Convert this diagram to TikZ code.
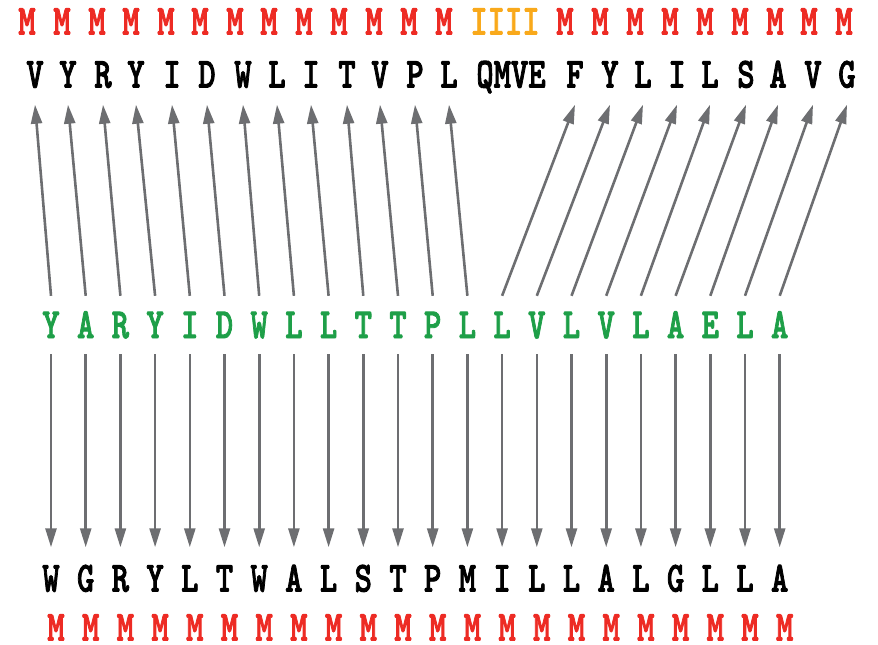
\documentclass[tikz,border=0pt]{standalone}
\usepackage{fontspec}
\usepackage{graphicx}
\usetikzlibrary{arrows.meta}
\newfontfamily\seqfont{lmmonolt10-bold.otf}[FakeBold=2.2]
\definecolor{mred}{RGB}{237,43,36}
\definecolor{morange}{RGB}{249,169,27}
\definecolor{mgreen}{RGB}{30,159,72}
\definecolor{mgray}{RGB}{109,110,113}
\newcommand\sqtxt[1]{\scalebox{1}[1.3]{\seqfont\fontsize{33}{35}\selectfont #1}}
\begin{document}
\begin{tikzpicture}[x=1pt,y=-1pt,
  lett/.style={inner sep=0pt, text height=26pt, text depth=0pt, anchor=center},
  topl/.style={lett, minimum height=60pt},
  midl/.style={lett, minimum height=58pt, text=mgreen},
  botl/.style={lett, minimum height=62pt},
  mrk/.style={lett, text=mred},
  arr/.style={draw=mgray, line width=2.6pt, -{Triangle[length=19pt,width=11pt]}}]
\useasboundingbox (0,0) rectangle (878,645);
% top marker row
\foreach \x [count=\i] in {27,62,97,131,166,200,235,269,304,339,374,409,444}
  \node[mrk] (tm\i) at (\x,21.5) {\sqtxt{M}};
\node[lett, text=morange] (tmI) at (505,21.5) {\sqtxt{IIII}};
\foreach \x [count=\i] in {565,600,635,670,705,740,775,809,844}
  \node[mrk] (tmr\i) at (\x,21.5) {\sqtxt{M}};
% top sequence
\foreach \x/\c [count=\i] in {35/V,68/Y,103/R,136/Y,172/I,207/D,243/W,277/L,311/I,347/T,380/V,415/P,449/L,575/F,610/Y,643/L,677/I,710/L,746/S,778/A,813/V,847/G}
  \node[topl] (t\i) at (\x,74.5) {\sqtxt{\c}};
\node[topl] (tq) at (511,74.5) {\sqtxt{QMVE}};
% middle sequence
\foreach \c [count=\i] in {Y,A,R,Y,I,D,W,L,L,T,T,P,L,L,V,L,V,L,A,E,L,A}
  \node[midl] (g\i) at ({51+34.7*(\i-1)},325) {\sqtxt{\c}};
% bottom sequence
\foreach \c [count=\i] in {W,G,R,Y,L,T,W,A,L,S,T,P,M,I,L,L,A,L,G,L,L,A}
  \node[botl] (b\i) at ({51+34.7*(\i-1)},578.5) {\sqtxt{\c}};
% bottom markers
\foreach \i in {1,...,22}
  \node[mrk] (bm\i) at ({56+34.7*(\i-1)},627.5) {\sqtxt{M}};
% arrows
\foreach \i in {1,...,22} {
  \draw[arr] (g\i.north) -- (t\i.south);
  \draw[arr] (g\i.south) -- (b\i.north);
}
\end{tikzpicture}
\end{document}
